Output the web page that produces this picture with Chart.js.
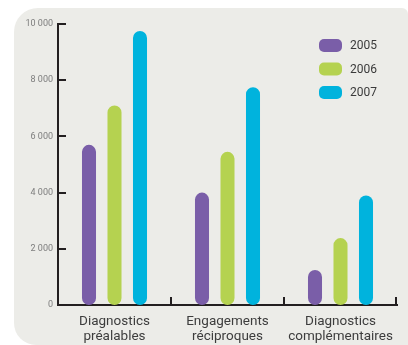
<!DOCTYPE html>
<html>
<head>
<meta charset="utf-8">
<script src="https://cdn.jsdelivr.net/npm/chart.js@4.4.1/dist/chart.umd.min.js"></script>
<style>
  html, body { margin: 0; padding: 0; background: #ffffff; }
  #wrap { position: relative; width: 408px; height: 345px; overflow: hidden; }
  #panel {
    position: absolute; left: 14px; top: 8px; width: 394px; height: 337px;
    background: #ecece8; border-radius: 24px 6px 0 22px;
  }
  canvas { position: absolute; left: 0; top: 0; }
</style>
</head>
<body>
<div id="wrap">
  <div id="panel"></div>
  <canvas id="chart" width="408" height="345"></canvas>
</div>
<script>
// Categories (two-line labels), series and axis ticks
const categories = [
  ["Diagnostics", "préalables"],
  ["Engagements", "réciproques"],
  ["Diagnostics", "complémentaires"]
];
const years = ["2005", "2006", "2007"];
const values2005 = [5700, 4000, 1250];
const values2006 = [7100, 5450, 2380];
const values2007 = [9750, 7750, 3900];
const yTickValues = [0, 2000, 4000, 6000, 8000, 10000];

const colors = ["#7a5ea8", "#b5d250", "#00b3dd"];
const axisColor = "#231f20";

function fmt(v) {
  return String(v).replace(/\B(?=(\d{3})+(?!\d))/g, " ");
}

// Small inward tick marks on both axes
const axisTicks = {
  id: "axisTicks",
  afterDraw(chart) {
    const { ctx, chartArea, scales } = chart;
    ctx.save();
    ctx.strokeStyle = axisColor;
    ctx.lineWidth = 2;
    yTickValues.forEach(v => {
      if (v === 0) return;
      const y = Math.round(scales.y.getPixelForValue(v));
      ctx.beginPath();
      ctx.moveTo(chartArea.left, y);
      ctx.lineTo(chartArea.left + 8, y);
      ctx.stroke();
    });
    const n = categories.length;
    const w = (chartArea.right - chartArea.left) / n;
    for (let i = 1; i <= n; i++) {
      const x = Math.round(chartArea.left + i * w) - (i === n ? 1 : 0);
      ctx.beginPath();
      ctx.moveTo(x, chartArea.bottom);
      ctx.lineTo(x, chartArea.bottom - 8);
      ctx.stroke();
    }
    ctx.restore();
  }
};

// Legend with rounded swatches at the top right
const pillLegend = {
  id: "pillLegend",
  afterDraw(chart) {
    const { ctx } = chart;
    ctx.save();
    chart.data.datasets.forEach((ds, i) => {
      const cy = 45.5 + i * 23.5;
      const x = 319, w = 23, h = 13;
      ctx.fillStyle = ds.backgroundColor;
      ctx.beginPath();
      ctx.roundRect(x, cy - h / 2, w, h, 5);
      ctx.fill();
      ctx.fillStyle = "#3a3a3a";
      ctx.font = "12px Roboto";
      ctx.textBaseline = "middle";
      ctx.textAlign = "left";
      ctx.fillText(ds.label, 350, cy + 0.5);
    });
    ctx.restore();
  }
};

new Chart(document.getElementById("chart"), {
  type: "bar",
  data: {
    labels: categories,
    datasets: [
      { label: years[0], data: values2005, backgroundColor: colors[0] },
      { label: years[1], data: values2006, backgroundColor: colors[1] },
      { label: years[2], data: values2007, backgroundColor: colors[2] }
    ]
  },
  options: {
    responsive: false,
    animation: false,
    devicePixelRatio: 1,
    layout: { padding: { top: 24, right: 11, bottom: 0, left: 0 } },
    datasets: {
      bar: {
        categoryPercentage: 0.677,
        barPercentage: 0.55,
        borderRadius: 20,
        borderSkipped: false
      }
    },
    plugins: {
      legend: { display: false },
      tooltip: { enabled: false }
    },
    scales: {
      x: {
        grid: { display: false, drawTicks: false },
        border: { display: true, color: axisColor, width: 2 },
        ticks: {
          color: "#3d3d3d",
          font: { family: "Roboto", size: 13.5, lineHeight: 1.12 },
          padding: 9,
          maxRotation: 0,
          autoSkip: false
        },
        afterFit(scale) { scale.height = 40; }
      },
      y: {
        min: 0,
        max: 10000,
        afterBuildTicks(scale) {
          scale.ticks = yTickValues.map(v => ({ value: v }));
        },
        grid: { display: false, drawTicks: false },
        border: { display: true, color: axisColor, width: 2 },
        ticks: {
          color: "#7d7d7d",
          font: { family: "Roboto", size: 9 },
          padding: 5,
          callback: v => fmt(v)
        },
        afterFit(scale) { scale.width = 58; }
      }
    }
  },
  plugins: [axisTicks, pillLegend]
});
</script>
</body>
</html>
